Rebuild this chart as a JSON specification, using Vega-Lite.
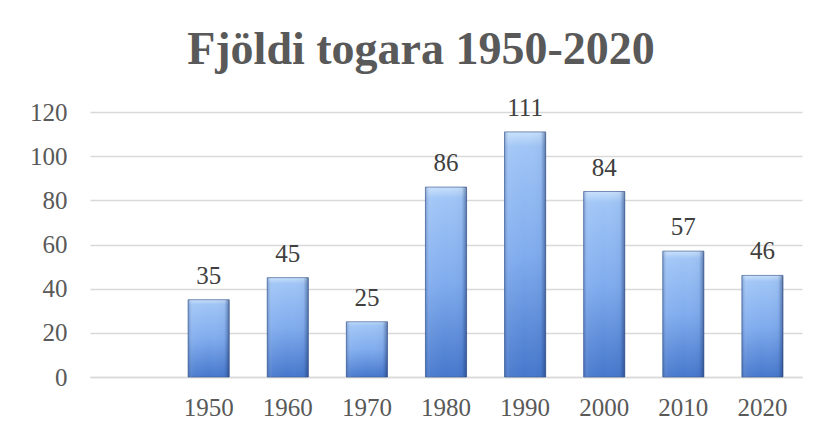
{
  "$schema": "https://vega.github.io/schema/vega-lite/v6.json",
  "width": 712,
  "height": 265,
  "autosize": {"type": "none"},
  "padding": {"left": 90, "top": 112, "right": 18, "bottom": 53},
  "background": "white",
  "title": {
    "text": "Fjöldi togara 1950-2020",
    "font": "Liberation Serif",
    "fontSize": 46,
    "fontWeight": "bold",
    "color": "#595959",
    "anchor": "middle",
    "baseline": "alphabetic",
    "dx": -25,
    "dy": 58,
    "offset": 44
  },
  "data": {
    "values": [
      {"year": "1950", "count": 35},
      {"year": "1960", "count": 45},
      {"year": "1970", "count": 25},
      {"year": "1980", "count": 86},
      {"year": "1990", "count": 111},
      {"year": "2000", "count": 84},
      {"year": "2010", "count": 57},
      {"year": "2020", "count": 46}
    ]
  },
  "encoding": {
    "x": {
      "field": "year",
      "type": "nominal",
      "title": null,
      "scale": {
        "domain": ["", "1950", "1960", "1970", "1980", "1990", "2000", "2010", "2020"],
        "paddingInner": 0.48,
        "paddingOuter": 0.24
      },
      "axis": {
        "labelAngle": 0,
        "ticks": false,
        "domainColor": "#d9d9d9",
        "domainWidth": 1.5,
        "labelFont": "Liberation Serif",
        "labelFontSize": 25,
        "labelColor": "#595959",
        "labelPadding": 18
      }
    },
    "y": {
      "field": "count",
      "type": "quantitative",
      "title": null,
      "scale": {"domain": [0, 120]},
      "axis": {
        "values": [0, 20, 40, 60, 80, 100, 120],
        "ticks": false,
        "domain": false,
        "gridColor": "#d9d9d9",
        "gridWidth": 1.5,
        "labelFont": "Liberation Serif",
        "labelFontSize": 25,
        "labelColor": "#595959",
        "labelPadding": 23
      }
    }
  },
  "layer": [
    {
      "mark": {
        "type": "bar",
        "stroke": "#3f5f95",
        "strokeWidth": 1,
        "strokeOpacity": 0.7,
        "color": {
          "gradient": "linear",
          "x1": 0, "y1": 0, "x2": 0, "y2": 1,
          "stops": [
            {"offset": 0, "color": "#c8e0fb"},
            {"offset": 0.06, "color": "#a0c5f6"},
            {"offset": 0.5, "color": "#80acee"},
            {"offset": 1, "color": "#4677cc"}
          ]
        }
      }
    },
    {
      "mark": {
        "type": "bar",
        "color": {
          "gradient": "linear",
          "x1": 0, "y1": 0, "x2": 1, "y2": 0,
          "stops": [
            {"offset": 0, "color": "rgba(40,70,130,0.35)"},
            {"offset": 0.12, "color": "rgba(255,255,255,0.05)"},
            {"offset": 0.5, "color": "rgba(255,255,255,0.0)"},
            {"offset": 0.88, "color": "rgba(40,70,130,0.05)"},
            {"offset": 1, "color": "rgba(20,40,90,0.5)"}
          ]
        }
      }
    },
    {
      "mark": {
        "type": "text",
        "baseline": "alphabetic",
        "dy": -16,
        "font": "Liberation Serif",
        "fontSize": 25,
        "color": "#404040"
      },
      "encoding": {"text": {"field": "count", "type": "quantitative"}}
    }
  ],
  "config": {"view": {"stroke": null}}
}
